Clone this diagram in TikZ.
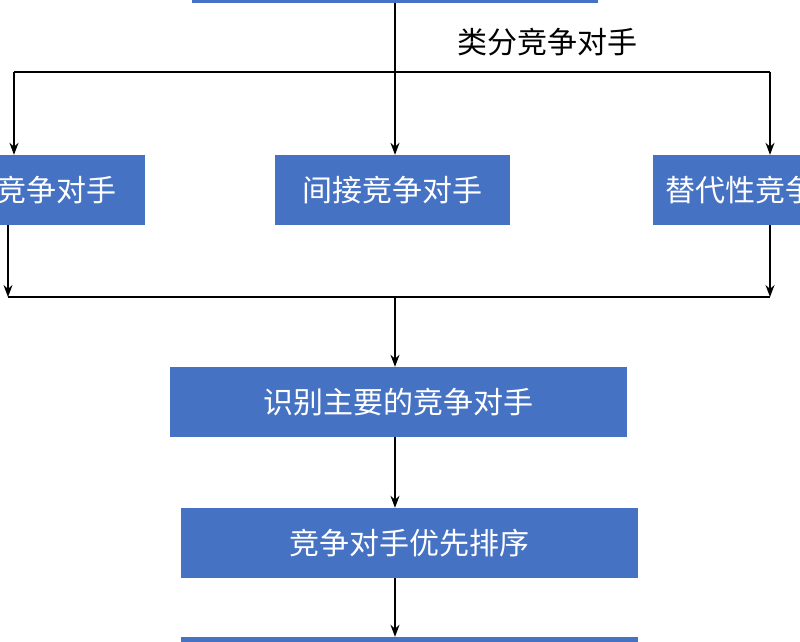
\documentclass[tikz,border=0pt]{standalone}
\usepackage{fontspec}
\newfontfamily\cjk{Noto Sans CJK SC}
\definecolor{boxblue}{RGB}{70,114,196}
\usetikzlibrary{arrows.meta}

\begin{document}
\begin{tikzpicture}[x=1pt,y=-1pt]

%
% Styles
%
\tikzstyle{stepbox} = [fill=boxblue,text=white,minimum height=70pt,inner sep=0pt,
                       font=\cjk\fontsize{30}{36}\selectfont]
\tikzstyle{link}    = [-{Stealth[length=12pt,width=9pt]},line width=1.3pt]
\tikzstyle{wire}    = [line width=1.3pt]

\useasboundingbox (0,0) rectangle (800,641);
\clip (0,0) rectangle (800,641);

\node[stepbox,minimum width=406pt] (top)   at (395,-32)  {竞争对手分析};
\node[stepbox,minimum width=235pt] (dir)   at (27,190)   {直接竞争对手};
\node[stepbox,minimum width=235pt] (ind)   at (392,190)  {间接竞争对手};
\node[stepbox,minimum width=235pt] (sub)   at (770,190)  {替代性竞争对手};
\node[stepbox,minimum width=457pt] (main)  at (398,402)  {识别主要的竞争对手};
\node[stepbox,minimum width=457pt] (rank)  at (409,543)  {竞争对手优先排序};
\node[stepbox,minimum width=457pt] (next)  at (409,672)  {};

\coordinate (split) at (395,72);
\coordinate (sl)    at (14,72);
\coordinate (sr)    at (770,72);
\coordinate (join)  at (395,297);
\coordinate (jl)    at (8,297);
\coordinate (jr)    at (770,297);

\draw[wire] (top.south -| split) -- (split);
\node[font=\cjk\fontsize{30}{36}\selectfont] (lab) at (547,42) {类分竞争对手};
\draw[wire] (sl) -- (sr);
\draw[link] (sl) -- (sl |- dir.north);
\draw[link] (split) -- (split |- ind.north);
\draw[link] (sr) -- (sr |- sub.north);

\draw[link] (dir.south -| jl) -- (jl);
\draw[link] (sub.south -| jr) -- (jr);
\draw[wire] (jl) -- (jr);
\draw[link] (join) -- (join |- main.north);

\draw[link] (main.south -| join) -- (join |- rank.north);
\draw[link] (rank.south -| join) -- (join |- next.north);

\end{tikzpicture}
\end{document}
